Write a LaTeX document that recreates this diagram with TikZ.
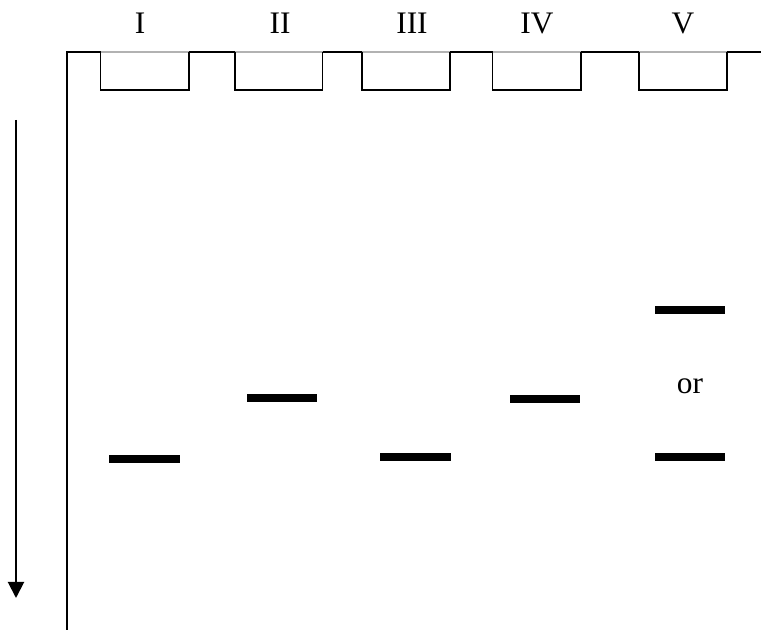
\documentclass[tikz,border=0pt]{standalone}
\usepackage{fontspec}
\setmainfont{Liberation Serif}
\usepackage{tikz}
\usetikzlibrary{positioning, arrows.meta}

\tikzset{
    lane/.style={font=\fontsize{23.5}{26}\selectfont, inner sep=0pt},
    band/.style={rectangle, fill=black, inner sep=0pt, minimum width=53pt, minimum height=5.5pt},
    well/.style={line width=1.1pt}
}

\begin{document}
\begin{tikzpicture}[x=0.75pt, y=-0.75pt]
        \useasboundingbox (0, 0) rectangle (761, 630);

        % gel outline
        \coordinate (g0) at (67, 630);
        \coordinate (g1) at (67, 52);
        \coordinate (g2) at (761, 52);
        \draw[well] (g0) -- (g1) -- (100.5, 52)
            (189, 52) -- (235, 52)
            (322.5, 52) -- (362, 52)
            (450, 52) -- (492.5, 52)
            (581, 52) -- (639, 52)
            (727, 52) -- (g2);

        % wells
        \foreach \l/\a/\b in {1/100.5/189, 2/235/322.5, 3/362/450, 4/492.5/581, 5/639/727} {
            \draw[gray!60, line width=0.8pt] (\a, 52) -- (\b, 52);
            \draw[well] (\a, 52) -- (\a, 90) -- (\b, 90) -- (\b, 52);
        }

        % lane labels
        \node[lane] (I) at (140, 23) {I};
        \node[lane] (II) at (280, 23) {II};
        \node[lane] (III) at (412, 23) {III};
        \node[lane] (IV) at (537, 23) {IV};
        \node[lane] (V) at (683, 23) {V};

        % bands
        \node[band] (b1) at (144.5, 459) {};
        \node[band] (b2) at (282, 398) {};
        \node[band] (b3) at (415.5, 457) {};
        \node[band] (b4) at (545, 399) {};
        \node[band] (b5) at (690, 310) {};
        \node[band] (b6) at (690, 457) {};
        \node[lane] (or) at (690, 386) {or};

        % direction of migration
        \coordinate (top) at (16, 120);
        \coordinate (bot) at (16, 598);
        \draw[line width=1.5pt, -{Triangle[length=12pt, width=12pt]}] (top) -- (bot);
    \end{tikzpicture}
\end{document}
